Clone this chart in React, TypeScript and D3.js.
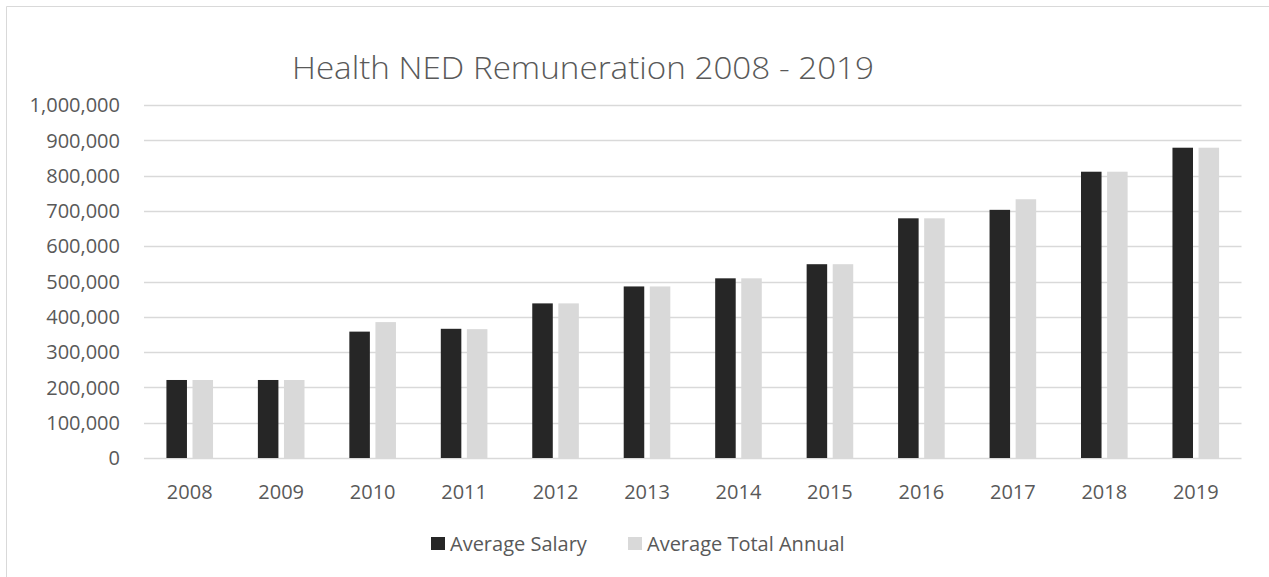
import React from "react";
import * as d3 from "d3";

const years = ["2008","2009","2010","2011","2012","2013","2014","2015","2016","2017","2018","2019"];
const averageSalary = [221000,221000,358000,366000,438000,486000,509000,549000,679000,703000,811000,879000];
const averageTotalAnnual = [221000,221000,385000,365000,438000,486000,509000,549000,679000,733000,811000,879000];
const yTicks = [0,100000,200000,300000,400000,500000,600000,700000,800000,900000,1000000];
const seriesNames = ["Average Salary","Average Total Annual"];
const seriesColors = ["#262626","#d9d9d9"];
const title = "Health NED Remuneration 2008 - 2019";

const W = 1269, H = 577;
const FONT = "'Open Sans', 'Noto Sans', sans-serif";
const TXT = "#595959";

export default function App() {
  const x = d3.scaleBand().domain(years).range([144, 1241.5]).padding(0);
  const y = d3.scaleLinear().domain([0, 1000000]).range([458, 105]);
  const bw = x.bandwidth();
  const barW = bw * 0.2245;
  const gap = barW * 0.27;
  const fmt = d3.format(",");
  const series = [averageSalary, averageTotalAnnual];

  return (
    <svg width={W} height={H} style={{ position: "absolute", left: 0, top: 0, background: "#fff" }}>
      <rect x={0} y={0} width={W} height={H} fill="#fff" />
      <line x1={6.5} y1={6.5} x2={W} y2={6.5} stroke="#d9d9d9" strokeWidth={1} />
      <line x1={6.5} y1={6.5} x2={6.5} y2={H} stroke="#d9d9d9" strokeWidth={1} />
      <text x={292} y={79} fontFamily={FONT} fontWeight={300} fontSize={32} fill={TXT} textLength={582} lengthAdjust="spacingAndGlyphs">{title}</text>
      {yTicks.map((t) => (
        <g key={t}>
          <line x1={144} x2={1241.5} y1={Math.round(y(t)) + 0.5} y2={Math.round(y(t)) + 0.5} stroke="#d9d9d9" strokeWidth={1.5} />
          <text x={120} y={y(t)} dy="0.36em" textAnchor="end" fontFamily={FONT} fontSize={20} fill={TXT}>{fmt(t)}</text>
        </g>
      ))}
      {years.map((yr, i) => {
        const cx = (x(yr) as number) + bw / 2;
        return (
          <g key={yr}>
            {series.map((s, si) => {
              const bx = si === 0 ? cx - gap / 2 - barW : cx + gap / 2;
              return (
                <rect key={si} x={bx} y={y(s[i])} width={barW} height={y(0) - y(s[i])} fill={seriesColors[si]} />
              );
            })}
            <text x={cx} y={499} textAnchor="middle" fontFamily={FONT} fontSize={20} fill={TXT}>{yr}</text>
          </g>
        );
      })}
      {seriesNames.map((n, i) => {
        const lx = i === 0 ? 431 : 628;
        return (
          <g key={n}>
            <rect x={lx} y={537} width={14} height={13} fill={seriesColors[i]} />
            <text x={lx + 19} y={551} fontFamily={FONT} fontSize={20} fill={TXT}>{n}</text>
          </g>
        );
      })}
    </svg>
  );
}
